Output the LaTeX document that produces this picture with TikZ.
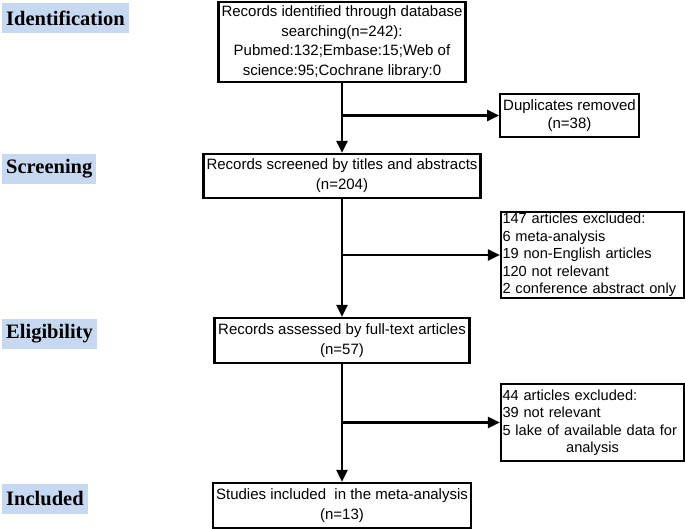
\documentclass[tikz,border=0pt]{standalone}
\usepackage{fontspec}
\setmainfont{Liberation Sans}
\newfontfamily\labfont{Liberation Serif}
\usetikzlibrary{arrows.meta}
\definecolor{labblue}{RGB}{198,217,241}
\begin{document}
\begin{tikzpicture}[x=1pt,y=-1pt,
  box/.style={draw=black, line width=2.2pt, inner xsep=3pt, inner ysep=0pt, align=center,
    font=\fontsize{15}{19.5}\selectfont},
  sidebox/.style={draw=black, line width=2.2pt, inner xsep=1.5pt, inner ysep=0pt, align=left,
    text width=180pt, font=\fontsize{14.6}{17.5}\selectfont},
  stage/.style={fill=labblue, anchor=west, inner xsep=4pt, inner ysep=0pt, minimum height=30pt,
    font=\labfont\bfseries\fontsize{20.5}{22}\selectfont},
  arr/.style={line width=2.2pt, -{Triangle[length=12pt,width=11pt]}}]
\useasboundingbox (0,0) rectangle (685,529);
\fill[white] (0,0) rectangle (685,529);

% stage labels
\node[stage] (lid) at (2,18) {Identification};
\node[stage] (lsc) at (2,169) {Screening};
\node[stage] (lel) at (2,334) {Eligibility};
\node[stage] (lin) at (2,498.5) {Included};

% main boxes
\node[box, minimum width=246pt, minimum height=80pt] (top) at (342,42)
  {Records identified through database\\searching(n=242):\\Pubmed:132;Embase:15;Web of\\science:95;Cochrane library:0};
\node[box, minimum width=277pt, minimum height=44pt, font=\fontsize{15}{20}\selectfont] (scr) at (342,176)
  {Records screened by titles and abstracts\\(n=204)};
\node[box, minimum width=255pt, minimum height=45pt, font=\fontsize{15}{20}\selectfont] (eli) at (342,340.5)
  {Records assessed by full-text articles\\(n=57)};
\node[box, minimum width=255pt, minimum height=45pt, font=\fontsize{15}{20}\selectfont] (inc) at (342,505.5)
  {Studies included\ \ in the meta-analysis\\(n=13)};

% side boxes
\node[box, minimum width=137pt, minimum height=43pt, font=\fontsize{15}{17.5}\selectfont] (dup) at (569.5,115.5)
  {Duplicates removed\\(n=38)};
\node[sidebox, minimum height=86pt] (ex1) at (592.5,255)
  {147 articles excluded:\\6 meta-analysis\\19 non-English articles\\120 not relevant\\2 conference abstract only};
\node[sidebox, minimum height=77pt] (ex2) at (592.5,422.5)
  {44 articles excluded:\\39 not relevant\\5 lake of available data for\\\makebox[180pt]{analysis}};

% connectors
\draw[arr] (top.south) -- (scr.north);
\draw[arr] (top.south |- dup.west) -- (dup.west);
\draw[arr] (scr.south) -- (eli.north);
\draw[arr] (scr.south |- ex1.west) -- (ex1.west);
\draw[arr] (eli.south) -- (inc.north);
\draw[arr] (eli.south |- ex2.west) -- (ex2.west);
\end{tikzpicture}
\end{document}
